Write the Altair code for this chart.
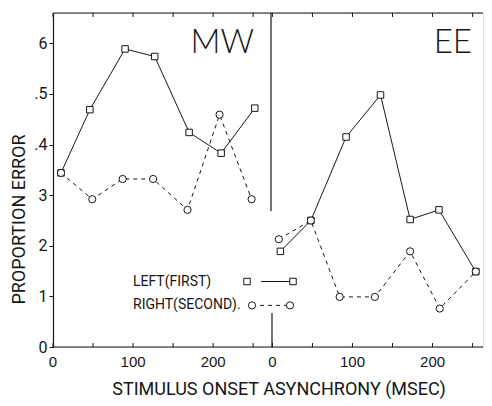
import altair as alt
import pandas as pd

# ---- data (SOA in msec, proportion error) ----
mw_left_soa = [10, 46, 90, 127, 170, 210, 252]
mw_left_err = [0.344, 0.469, 0.589, 0.574, 0.424, 0.383, 0.472]
mw_right_soa = [10, 49, 87, 125, 168, 208, 248]
mw_right_err = [0.344, 0.292, 0.332, 0.332, 0.271, 0.459, 0.292]

ee_left_soa = [10, 48, 92, 135, 172, 208, 254]
ee_left_err = [0.189, 0.250, 0.415, 0.498, 0.252, 0.271, 0.149]
ee_right_soa = [8, 48, 84, 128, 172, 209, 254]
ee_right_err = [0.213, 0.250, 0.099, 0.099, 0.189, 0.076, 0.149]

y_tick_values = [0, 0.1, 0.2, 0.3, 0.4, 0.5, 0.6]
y_tick_labels = ["0", "1", "2", "3", ".4", ".5", "6"]
x_label_values = [0, 100, 200]
x_label_texts = ["0", "100", "200"]
x_tick_values = [0, 50, 100, 150, 200, 250]
legend_labels = ["LEFT(FIRST)", "RIGHT(SECOND)."]
panel_names = ["MW", "EE"]
x_title = "STIMULUS ONSET ASYNCHRONY (MSEC)"
y_title = "PROPORTION ERROR"

INK = "#161616"
FONT = "Roboto"
H = 334
W = 430            # both panels side by side
W_LEFT = 218       # width of the MW panel
X_DOM = [0, 537]   # MW: 0..272 ms, EE: -2..263 ms placed after it
EE_SHIFT = 274
POS = f"datum.soa + (datum.panel == 'EE' ? {EE_SHIFT} : 0)"
Y_DOM = [0, 0.66]


def series_df(mx, my, ex, ey):
    return pd.DataFrame({"panel": [panel_names[0]] * len(mx) + [panel_names[1]] * len(ex),
                         "soa": mx + ex, "err": my + ey})


d_first = series_df(mw_left_soa, mw_left_err, ee_left_soa, ee_left_err)
d_second = series_df(mw_right_soa, mw_right_err, ee_right_soa, ee_right_err)
ticks_df = pd.DataFrame([(p, t) for p in panel_names for t in x_tick_values], columns=["panel", "soa"])
labels_df = pd.DataFrame([(p, v, s) for p in panel_names for v, s in zip(x_label_values, x_label_texts)],
                         columns=["panel", "soa", "lab"])
one = pd.DataFrame({"k": [0]})

lbl_map = "{" + ",".join(f"'{round(v*10)}':'{t}'" for v, t in zip(y_tick_values, y_tick_labels)) + "}"
yaxis = alt.Axis(values=y_tick_values, title=y_title, grid=False,
                 labelExpr=f"{lbl_map}[''+round(datum.value*10)]",
                 tickSize=4, tickColor=INK, domainColor=INK, domainWidth=1.2,
                 labelFont=FONT, labelFontSize=16, labelColor=INK, labelPadding=2,
                 titleFont=FONT, titleFontSize=18, titleFontWeight="normal", titleColor=INK,
                 titleX=-34, titleY=206, titleBaseline="middle", titleAngle=270)

xs = alt.Scale(domain=X_DOM, nice=False, zero=False)
X = alt.X("pos:Q", scale=xs, axis=None)
Y = alt.Y("err:Q", scale=alt.Scale(domain=Y_DOM, nice=False, zero=False), axis=yaxis)

line_first = alt.Chart(d_first).transform_calculate(pos=POS).mark_line(
    color=INK, strokeWidth=1).encode(x=X, y=Y, detail="panel:N")
line_second = alt.Chart(d_second).transform_calculate(pos=POS).mark_line(
    color=INK, strokeWidth=1, strokeDash=[4, 4]).encode(x=X, y=Y, detail="panel:N")
pt_first = alt.Chart(d_first).transform_calculate(pos=POS).mark_point(
    shape="square", size=42, filled=True, fill="white", stroke=INK, strokeWidth=1, opacity=1
).encode(x=X, y=Y)
pt_second = alt.Chart(d_second).transform_calculate(pos=POS).mark_point(
    shape="circle", size=52, filled=True, fill="white", stroke=INK, strokeWidth=1, opacity=1
).encode(x=X, y=Y)

tick_bot = alt.Chart(ticks_df).transform_calculate(pos=POS).mark_rule(color=INK, strokeWidth=1).encode(
    x=X, y=alt.value(H), y2=alt.value(H - 4))
tick_top = alt.Chart(ticks_df).transform_calculate(pos=POS).mark_rule(color=INK, strokeWidth=1).encode(
    x=X, y=alt.value(0), y2=alt.value(4))

# x tick labels through the x scale (alphabetic baseline, different font)
xlabels = alt.Chart(labels_df).transform_calculate(pos=POS).mark_text(
    font="Liberation Sans", fontSize=15, fill="#161616", align="center", baseline="alphabetic",
    opacity=1
).encode(x=X, y=alt.value(H + 20), text="lab:N")

top_border = alt.Chart(one).mark_rule(color=INK, strokeWidth=1.2).encode(
    x=alt.value(0), x2=alt.value(W), y=alt.value(0))
bottom_axis = alt.Chart(one).mark_rule(color=INK, strokeWidth=1.2).encode(
    x=alt.value(0), x2=alt.value(W), y=alt.value(H))
div_top = alt.Chart(one).mark_rule(color=INK, strokeWidth=1.2).encode(
    x=alt.value(W_LEFT), y=alt.value(0), y2=alt.value(198))
div_bot = alt.Chart(one).mark_rule(color=INK, strokeWidth=1.2).encode(
    x=alt.value(W_LEFT + 1), y=alt.value(300), y2=alt.value(H))

name_mw = alt.Chart(one).mark_text(text=panel_names[0], font="Lato", fontWeight=300, fontSize=33,
                                   color=INK, align="right", baseline="alphabetic").encode(
    x=alt.value(201), y=alt.value(40))
name_ee = alt.Chart(one).mark_text(text=panel_names[1], font="Lato", fontWeight=300, fontSize=33,
                                   color=INK, align="right", baseline="alphabetic").encode(
    x=alt.value(W_LEFT + 201), y=alt.value(40))
xtitle = alt.Chart(one).mark_text(text=x_title, font=FONT, fontSize=18, color=INK,
                                  align="center", baseline="alphabetic").encode(
    x=alt.value(226), y=alt.value(H + 48))

ty1, ty2 = 268.5, 292.4
t1 = alt.Chart(one).mark_text(text=legend_labels[0], font=FONT, fontSize=14, color=INK,
                              align="left", baseline="middle").encode(x=alt.value(80), y=alt.value(ty1))
t2 = alt.Chart(one).mark_text(text=legend_labels[1], font=FONT, fontSize=14, color=INK,
                              align="left", baseline="middle").encode(x=alt.value(80), y=alt.value(ty2))
l1 = alt.Chart(one).mark_rule(color=INK, strokeWidth=1).encode(
    x=alt.value(208), x2=alt.value(238), y=alt.value(ty1))
l2 = alt.Chart(one).mark_rule(color=INK, strokeWidth=1, strokeDash=[4, 4]).encode(
    x=alt.value(199), x2=alt.value(237), y=alt.value(ty2))


def sym(shape, size, x, y):
    return alt.Chart(one).mark_point(shape=shape, size=size, filled=True, fill="white",
                                     stroke=INK, strokeWidth=1, opacity=1).encode(
        x=alt.value(x), y=alt.value(y))


legend = [t1, t2, l1, l2, sym("square", 42, 194, ty1), sym("square", 42, 240, ty1),
          sym("circle", 52, 199, ty2), sym("circle", 52, 237, ty2)]

chart = alt.layer(
    xlabels, xtitle,
    line_first, line_second, pt_first, pt_second,
    tick_bot, tick_top, top_border, bottom_axis, div_top, div_bot,
    name_mw, name_ee, *legend,
).properties(
    width=W, height=H,
    padding={"left": 2, "top": 4, "right": 0, "bottom": 0},
).configure_view(stroke=None).configure(background="white")

chart.save("out.html", embed_options={"renderer": "svg", "actions": False})
